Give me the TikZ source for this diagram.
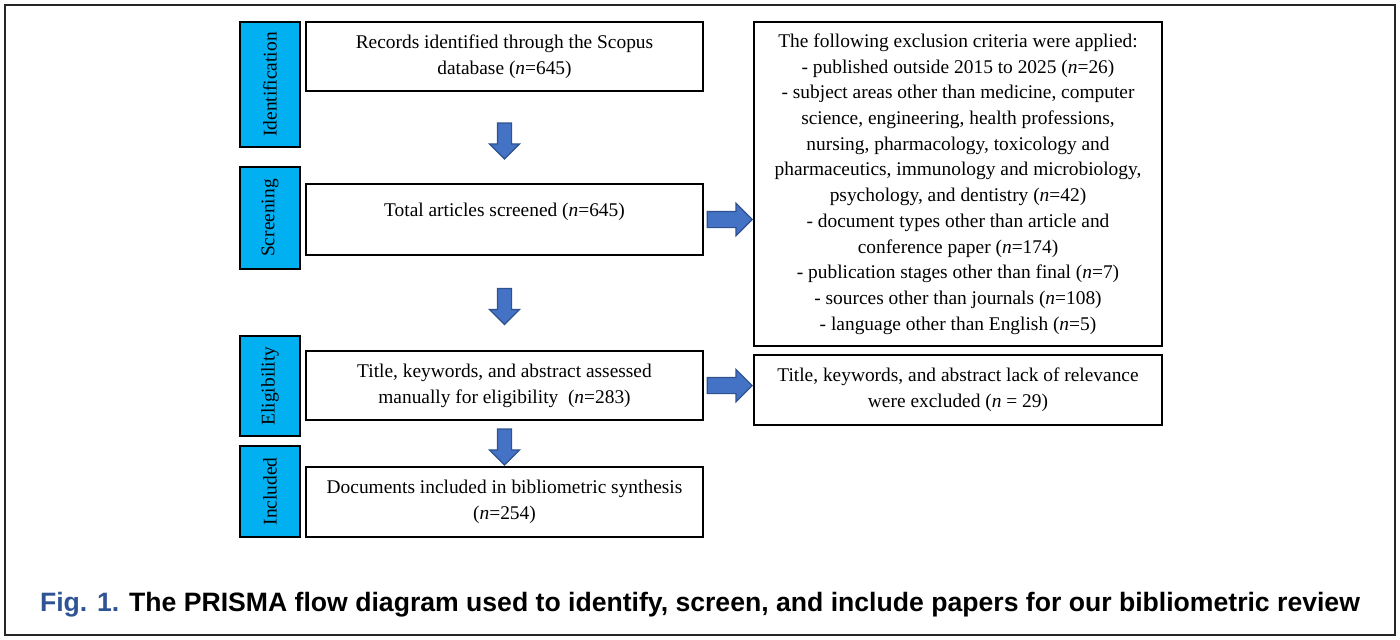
\documentclass[tikz,border=0pt]{standalone}
\usepackage{fontspec}
\setmainfont{Liberation Serif}
\newfontfamily\capfont{Liberation Sans}
\usetikzlibrary{positioning,calc,shapes.arrows}
\definecolor{stageblue}{HTML}{00B0F0}
\definecolor{arrfill}{HTML}{4472C4}
\definecolor{arrline}{HTML}{2F528F}
\definecolor{figblue}{HTML}{2F5496}

\begin{document}
\begin{tikzpicture}
		[x=0.5pt, y=-0.5pt,
		 font=\fontsize{9.7pt}{12.85pt}\selectfont,
		 stage/.style={draw=black, line width=1pt, fill=stageblue, rotate=90,
			minimum height=30pt, inner sep=0pt},
		 box/.style={draw=black, line width=1pt, minimum width=198.5pt,
			align=center, inner sep=0pt},
		 xbox/.style={box, minimum width=204pt},
		 downarr/.style={single arrow, draw=arrline, fill=arrfill, line width=0.6pt,
			rotate=-90, minimum height=18pt, minimum width=14.5pt, inner sep=3.25pt,
			single arrow head extend=4pt},
		 rightarr/.style={single arrow, draw=arrline, fill=arrfill, line width=0.6pt,
			anchor=tip, minimum height=22.5pt, minimum width=15.5pt, inner sep=3.75pt,
			single arrow head extend=4pt}]
		\useasboundingbox (0,0) rectangle (1400,639);
		\draw[line width=0.75pt, black!85] (5,5) rectangle (1395,635);

		\node[stage, minimum width=62.5pt] (I) at (270,84.5) {Identification};
		\node[stage, minimum width=51pt] (S) at (270,218) {Screening};
		\node[stage, minimum width=50pt] (E) at (270,386) {Eligibility};
		\node[stage, minimum width=45.5pt] (C) at (270,491.5) {Included};

		\node[box, minimum height=34.5pt] (R) at (504.5,56.5)
			{Records identified through the Scopus\\ database (\textit{n}=645)};
		\node[box, minimum height=35.5pt, text height=8pt, text depth=11.5pt] (T) at (504.5,219.5)
			{Total articles screened (\textit{n}=645)};
		\node[box, minimum height=34.5pt] (K) at (504.5,385.5)
			{Title, keywords, and abstract assessed\\ manually for eligibility\ \ (\textit{n}=283)};
		\node[box, minimum height=35pt] (D) at (504.5,502)
			{Documents included in bibliometric synthesis\\ (\textit{n}=254)};

		\node[xbox, minimum height=162pt] (X) at (958,184)
			{The following exclusion criteria were applied:\\
			 - published outside 2015 to 2025 (\textit{n}=26)\\
			 - subject areas other than medicine, computer\\
			 science, engineering, health professions,\\
			 nursing, pharmacology, toxicology and\\
			 pharmaceutics, immunology and microbiology,\\
			 psychology, and dentistry (\textit{n}=42)\\
			 - document types other than article and\\
			 conference paper (\textit{n}=174)\\
			 - publication stages other than final (\textit{n}=7)\\
			 - sources other than journals (\textit{n}=108)\\
			 - language other than English (\textit{n}=5)};
		\node[xbox, minimum height=35pt] (Y) at (958,390)
			{Title, keywords, and abstract lack of relevance\\ were excluded (\textit{n} = 29)};

		\node[downarr] (a1) at ($(R.south)!0.5!(T.north)$) {};
		\node[downarr] (a2) at ($(T.south)!0.5!(K.north)$) {};
		\node[downarr] (a3) at ($(K.south)!0.5!(D.north)$) {};
		\node[rightarr] (b1) at (T.east -| X.west) {};
		\node[rightarr] (b2) at (K.east -| Y.west) {};

		\node[anchor=base, font=\capfont\bfseries\fontsize{13.3pt}{16pt}\selectfont] (F) at (700,611)
			{\textcolor{figblue}{Fig. 1.} The PRISMA flow diagram used to identify, screen, and include papers for our bibliometric review};
	\end{tikzpicture}
\end{document}
